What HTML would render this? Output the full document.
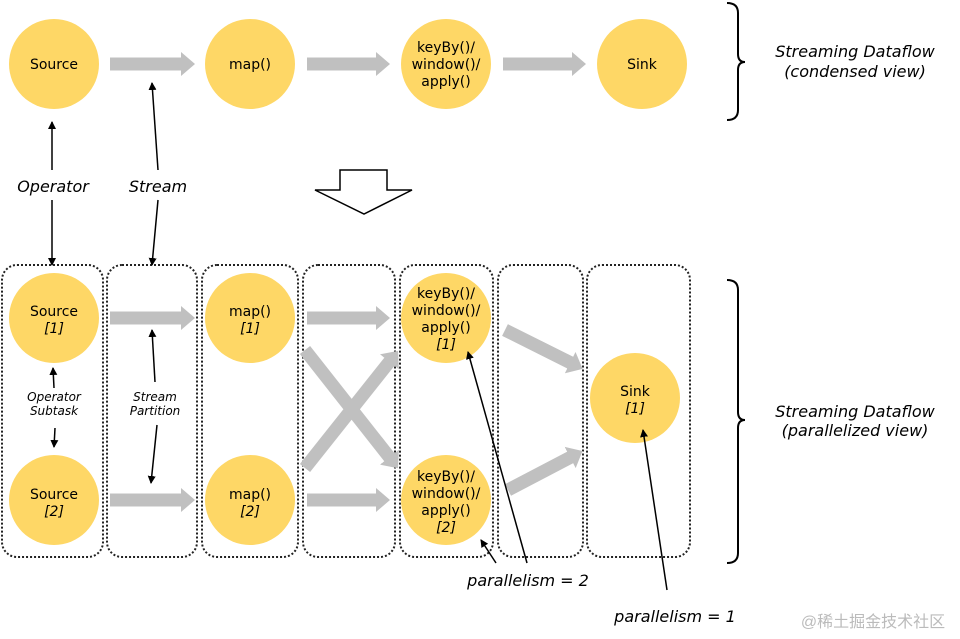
<!DOCTYPE html>
<html><head><meta charset="utf-8"><style>body{margin:0;background:#fff}svg{display:block}</style></head><body>
<svg width="960" height="639" viewBox="0 0 960 639" xmlns="http://www.w3.org/2000/svg" font-family="Verdana, 'DejaVu Sans', sans-serif">
<defs>
<marker id="ah" markerWidth="8" markerHeight="8" refX="7" refY="4" orient="auto" markerUnits="userSpaceOnUse"><path d="M0,0 L8,4 L0,8 z" fill="#000"/></marker>
<marker id="gh" markerWidth="14" markerHeight="24" refX="1" refY="12" orient="auto" markerUnits="userSpaceOnUse"><path d="M0,0 L14,12 L0,24 z" fill="#c0c0c0"/></marker>
</defs>
<g fill="none" stroke="#222" stroke-width="2" stroke-dasharray="2,2">
<rect x="2" y="265" width="101" height="292" rx="15"/>
<rect x="107" y="265" width="90" height="292" rx="15"/>
<rect x="202" y="265" width="96" height="292" rx="15"/>
<rect x="303" y="265" width="92" height="292" rx="15"/>
<rect x="400" y="265" width="93" height="292" rx="15"/>
<rect x="498" y="265" width="85" height="292" rx="15"/>
<rect x="587" y="265" width="103" height="292" rx="15"/>
</g>
<g stroke="#c0c0c0" stroke-width="13" marker-end="url(#gh)">
<line x1="110" y1="64" x2="182" y2="64"/><line x1="307" y1="64" x2="377" y2="64"/><line x1="503" y1="64" x2="573" y2="64"/>
<line x1="110" y1="318" x2="182" y2="318"/><line x1="307" y1="318" x2="377" y2="318"/>
<line x1="110" y1="500" x2="182" y2="500"/><line x1="307" y1="500" x2="377" y2="500"/>
<line x1="305" y1="468" x2="390" y2="361"/><line x1="305" y1="350" x2="390" y2="458"/>
<line x1="505" y1="330" x2="571" y2="363"/><line x1="508" y1="490" x2="571" y2="457"/>
</g>
<g fill="#fed766">
<circle cx="54" cy="64" r="45"/><circle cx="250" cy="64" r="45"/><circle cx="446" cy="64" r="45"/><circle cx="642" cy="64" r="45"/>
<circle cx="54" cy="318" r="45"/><circle cx="54" cy="500" r="45"/><circle cx="250" cy="318" r="45"/><circle cx="250" cy="500" r="45"/>
<circle cx="446" cy="318" r="45"/><circle cx="446" cy="500" r="45"/><circle cx="635" cy="398" r="45"/>
</g>
<g font-size="14" text-anchor="middle" fill="#000">
<text x="54" y="69">Source</text><text x="250" y="69">map()</text><text x="642" y="69">Sink</text>
<text x="446" y="52">keyBy()/</text><text x="446" y="69">window()/</text><text x="446" y="86">apply()</text>
<text x="54" y="316">Source</text><text x="54" y="333" font-style="italic">[1]</text>
<text x="54" y="499">Source</text><text x="54" y="516" font-style="italic">[2]</text>
<text x="250" y="316">map()</text><text x="250" y="333" font-style="italic">[1]</text>
<text x="250" y="499">map()</text><text x="250" y="516" font-style="italic">[2]</text>
<text x="446" y="298">keyBy()/</text><text x="446" y="315">window()/</text><text x="446" y="332">apply()</text><text x="446" y="349" font-style="italic">[1]</text>
<text x="446" y="481">keyBy()/</text><text x="446" y="498">window()/</text><text x="446" y="515">apply()</text><text x="446" y="532" font-style="italic">[2]</text>
<text x="635" y="396">Sink</text><text x="635" y="413" font-style="italic">[1]</text>
</g>
<g font-style="italic" text-anchor="middle" fill="#000">
<text x="53" y="192" font-size="16">Operator</text><text x="158" y="192" font-size="16">Stream</text>
<text x="54" y="401" font-size="12">Operator</text><text x="54" y="415" font-size="12">Subtask</text>
<text x="155" y="401" font-size="12">Stream</text><text x="155" y="415" font-size="12">Partition</text>
<text x="855" y="57" font-size="16">Streaming Dataflow</text><text x="855" y="77" font-size="16">(condensed view)</text>
<text x="855" y="417" font-size="16">Streaming Dataflow</text><text x="855" y="436" font-size="16">(parallelized view)</text>
<text x="528" y="586" font-size="16">parallelism = 2</text><text x="675" y="622" font-size="16">parallelism = 1</text>
</g>
<g stroke="#000" stroke-width="1.5" marker-end="url(#ah)">
<line x1="52" y1="170" x2="52" y2="122"/><line x1="52" y1="200" x2="52" y2="265"/>
<line x1="158" y1="170" x2="152" y2="83"/><line x1="158" y1="200" x2="152" y2="265"/>
<line x1="54" y1="388" x2="53" y2="368"/><line x1="55" y1="428" x2="54" y2="447"/>
<line x1="155" y1="382" x2="152" y2="330"/><line x1="157" y1="425" x2="151" y2="483"/>
<line x1="527" y1="563" x2="468" y2="352"/><line x1="496" y1="563" x2="481" y2="540"/>
<line x1="667" y1="590" x2="643" y2="430"/>
</g>
<path d="M340,170 H387 V190 H412 L364,214 L315,190 H340 Z" fill="#fff" stroke="#000" stroke-width="1.5"/>
<g fill="none" stroke="#000" stroke-width="2">
<path d="M727,3 Q738,3 738,13 V54 Q738,62 745,62 Q738,62 738,70 V110 Q738,120 727,120"/>
<path d="M727,280 Q738,280 738,290 V412 Q738,420 745,420 Q738,420 738,428 V553 Q738,563 727,563"/>
</g>
<text x="873" y="627" font-size="16" text-anchor="middle" fill="#bbb" font-family="'Liberation Sans','Noto Sans CJK SC',sans-serif">@稀土掘金技术社区</text>
</svg>
</body></html>
